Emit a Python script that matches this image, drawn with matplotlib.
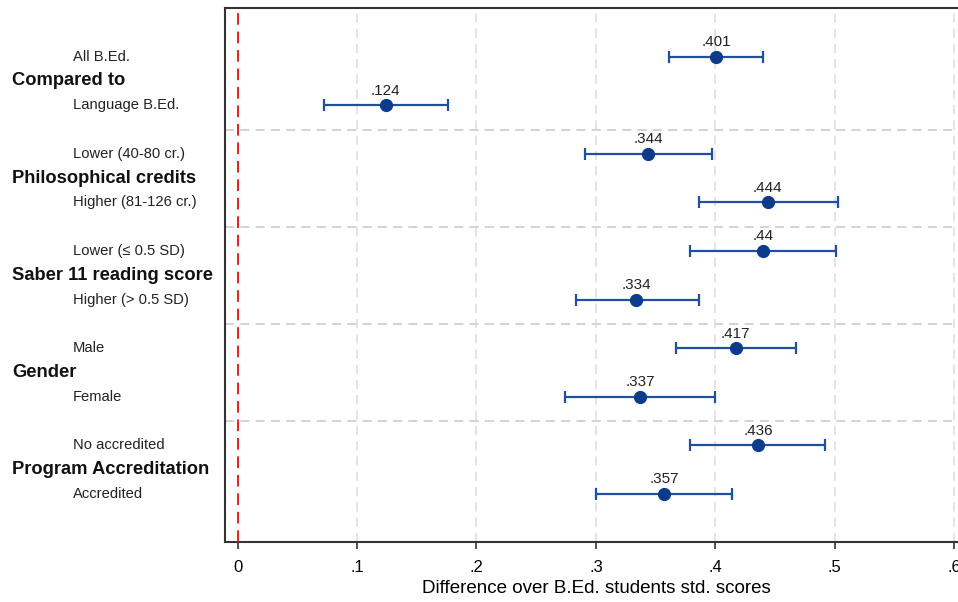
import matplotlib
matplotlib.use("Agg")
import matplotlib.pyplot as plt
from matplotlib import font_manager
from matplotlib.transforms import blended_transform_factory

# condensed face if available
names = {f.name for f in font_manager.fontManager.ttflist}
FONT = "Liberation Sans Narrow" if "Liberation Sans Narrow" in names else "Liberation Sans"
plt.rcParams["font.family"] = [FONT, "DejaVu Sans"]

groups = ["Compared to", "Philosophical credits", "Saber 11 reading score",
          "Gender", "Program Accreditation"]
sublabels = ["All B.Ed.", "Language B.Ed.",
             "Lower (40-80 cr.)", "Higher (81-126 cr.)",
             "Lower (\u2264 0.5 SD)", "Higher (> 0.5 SD)",
             "Male", "Female",
             "No accredited", "Accredited"]
estimates = [0.401, 0.124, 0.344, 0.444, 0.44, 0.334, 0.417, 0.337, 0.436, 0.357]
ci_low = [0.361, 0.072, 0.291, 0.386, 0.379, 0.283, 0.367, 0.274, 0.379, 0.300]
ci_high = [0.440, 0.176, 0.397, 0.503, 0.501, 0.386, 0.468, 0.400, 0.492, 0.414]
xticks = [0, 0.1, 0.2, 0.3, 0.4, 0.5, 0.6]
xticklabels = ["0", ".1", ".2", ".3", ".4", ".5", ".6"]

navy = "#0d3b8c"
line_col = "#1f4f9e"

fig = plt.figure(figsize=(9.58, 6.02), dpi=100)
# axes runs past the right edge of the canvas
ax = fig.add_axes([224.5 / 958, 60.3 / 602, 753.5 / 958, 533.7 / 602])

rows = list(range(1, len(estimates) + 1))
for y, est, lo, hi in zip(rows, estimates, ci_low, ci_high):
    ax.errorbar(est, y, xerr=[[est - lo], [hi - est]], fmt="o", color=navy,
                ecolor=line_col, elinewidth=1.6, capsize=4.5, capthick=1.6,
                markersize=8.5, zorder=4)
    lbl = f"{est:.3f}".rstrip("0").lstrip("0")
    ax.annotate(lbl, (est, y), xytext=(0, 5.5), textcoords="offset points",
                ha="center", va="bottom", fontsize=11, color="#222222")

# separators between groups
for sep in [2.5, 4.5, 6.5, 8.5]:
    ax.axhline(sep, color="#c8c8c8", lw=1.1, ls=(0, (6, 4)), zorder=1)

for xt in xticks[1:]:
    ax.axvline(xt, color="#dcdcdc", lw=1.1, ls=(0, (6, 4)), zorder=1)
ax.axvline(0, color="#e8201c", lw=1.4, ls=(0, (6, 3.5)), zorder=3)

ax.set_xlim(-0.011, 0.620)
ax.set_ylim(10.98, 0.0)
ax.set_xticks(xticks)
ax.set_xticklabels(xticklabels, fontsize=12)
ax.set_yticks([])
ax.tick_params(axis="x", direction="out", length=5, width=1.2, pad=8, color="#333333")
ax.set_xlabel("Difference over B.Ed. students std. scores", fontsize=13.5,
              x=(596 - 224.5) / 753.5, labelpad=4)
for side in ["left", "bottom", "top"]:
    ax.spines[side].set_linewidth(1.5)
    ax.spines[side].set_color("#333333")
ax.spines["right"].set_visible(False)

# row labels on the left
tr = blended_transform_factory(fig.transFigure, ax.transData)
for i, g in enumerate(groups):
    ax.text(12 / 958, 2 * i + 1.5, g, transform=tr, ha="left", va="center",
            fontsize=13.2, fontweight="bold", color="#111111")
for y, s in zip(rows, sublabels):
    ax.text(73 / 958, y, s, transform=tr, ha="left", va="center",
            fontsize=10.6, color="#222222")

fig.savefig("out.png", dpi=100)
